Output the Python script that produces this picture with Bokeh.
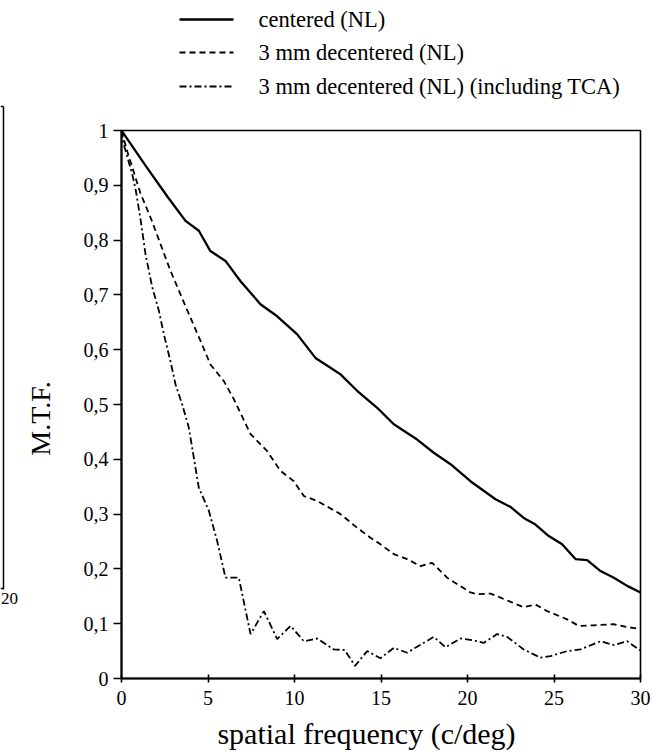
import math
from bokeh.plotting import figure
from bokeh.models import Range1d, FixedTicker
from bokeh.layouts import row, column
from bokeh.core.properties import value
from bokeh.embed import file_html
from bokeh.resources import INLINE

# ---------------- data ----------------
freq_centered = [0, 1.39, 2.64, 3.70, 4.47, 5.14, 6.01, 6.88, 8.03, 9.0, 10.16, 11.21,
                 12.08, 12.66, 13.62, 14.78, 15.74, 17.09, 18.05, 19.02, 20.17, 21.62,
                 22.49, 23.25, 23.93, 24.7, 25.47, 26.24, 26.92, 27.69, 28.46, 29.23, 30.0]
mtf_centered = [1.0, 0.936, 0.88, 0.835, 0.817, 0.78, 0.762, 0.725, 0.683, 0.661, 0.628, 0.585,
                0.567, 0.555, 0.525, 0.494, 0.464, 0.436, 0.412, 0.391, 0.36, 0.327,
                0.313, 0.293, 0.281, 0.26, 0.245, 0.218, 0.216, 0.196, 0.184, 0.169, 0.157]

freq_decentered = [0, 0.33, 1.1, 1.72, 2.3, 2.83, 3.41, 3.99, 4.57, 5.14, 5.91, 6.49, 7.46,
                   8.42, 9.19, 9.96, 10.54, 11.31, 12.66, 13.62, 14.39, 14.97, 15.74, 16.51,
                   17.28, 17.96, 18.82, 20.17, 20.56, 21.33, 22.1, 23.25, 23.93, 24.6, 25.76,
                   26.43, 27.3, 28.46, 29.23, 30.0]
mtf_decentered = [1.0, 0.962, 0.885, 0.838, 0.789, 0.744, 0.701, 0.658, 0.616, 0.573, 0.543,
                  0.51, 0.446, 0.415, 0.379, 0.36, 0.333, 0.324, 0.3, 0.275, 0.257, 0.245,
                  0.227, 0.218, 0.205, 0.211, 0.184, 0.157, 0.154, 0.155, 0.145, 0.13, 0.135,
                  0.123, 0.108, 0.096, 0.097, 0.099, 0.094, 0.09]

freq_tca = [0, 0.13, 0.62, 0.81, 1.10, 1.39, 1.77, 2.16, 2.45, 2.83, 3.12, 3.51, 3.89, 4.18,
            4.47, 5.05, 5.53, 6.01, 6.78, 7.46, 8.23, 9.0, 9.77, 10.54, 11.31, 12.27, 12.9,
            13.5, 14.2, 14.97, 15.74, 16.51, 18.05, 18.73, 19.6, 20.27, 20.94, 21.71, 22.29,
            23.25, 24.22, 24.8, 25.76, 26.53, 27.69, 28.46, 29.23, 30.0]
mtf_tca = [1.0, 0.975, 0.92, 0.894, 0.838, 0.774, 0.715, 0.671, 0.628, 0.579, 0.537, 0.5,
           0.458, 0.403, 0.348, 0.306, 0.251, 0.184, 0.184, 0.081, 0.123, 0.072, 0.096, 0.068,
           0.073, 0.053, 0.052, 0.023, 0.05, 0.037, 0.056, 0.047, 0.076, 0.057, 0.073, 0.07,
           0.065, 0.081, 0.076, 0.053, 0.038, 0.041, 0.05, 0.053, 0.068, 0.061, 0.068, 0.051]

series_labels = ["centered (NL)", "3 mm decentered (NL)",
                 "3 mm decentered (NL) (including TCA)"]

x_ticks = [0, 5, 10, 15, 20, 25, 30]
x_tick_labels = ["0", "5", "10", "15", "20", "25", "30"]
y_ticks = [0, 0.1, 0.2, 0.3, 0.4, 0.5, 0.6, 0.7, 0.8, 0.9, 1]
y_tick_labels = ["0", "0,1", "0,2", "0,3", "0,4", "0,5", "0,6", "0,7", "0,8", "0,9", "1"]

x_title = "spatial frequency (c/deg)"
y_title = "M.T.F."
frag_tick_label = "20"

SERIF = "Liberation Serif"
STYLES = [dict(line_color="black", line_width=2.3),
          dict(line_color="black", line_width=1.8, line_dash="6 4"),
          dict(line_color="black", line_width=1.8, line_dash="7 3 2 3")]

# ---------------- page layout (pixels) ----------------
TOTAL_W, TOTAL_H = 663, 752
SIDE_W = 60
FRAME_L, FRAME_R, FRAME_T, FRAME_B = 121, 640, 130, 678
LEG_H = 110
MAIN_TOP = FRAME_T - LEG_H
MAIN_BOT = 35
MAIN_H = MAIN_TOP + (FRAME_B - FRAME_T) + MAIN_BOT
BOT_H = TOTAL_H - LEG_H - MAIN_H
COL_W = TOTAL_W - SIDE_W
BORDER_L = FRAME_L - SIDE_W
BORDER_R = TOTAL_W - FRAME_R

LEG_ROWS_Y = [19, 52, 86]
LEG_X0, LEG_X1, LEG_TEXT_X = 179, 233, 258
XTITLE_X, XTITLE_Y = 366, 733
YTITLE_X, YTITLE_Y = 40, 418


def bare(fig):
    fig.axis.visible = False
    fig.xgrid.visible = False
    fig.ygrid.visible = False
    fig.outline_line_color = None
    fig.background_fill_color = "white"
    fig.border_fill_color = "white"


# ---------------- main chart ----------------
p = figure(width=COL_W, height=MAIN_H, x_range=Range1d(0, 30), y_range=Range1d(0, 1),
           output_backend="svg", toolbar_location=None,
           min_border_left=BORDER_L, min_border_right=BORDER_R,
           min_border_top=MAIN_TOP, min_border_bottom=MAIN_BOT)
p.background_fill_color = "white"
p.border_fill_color = "white"
p.xgrid.visible = False
p.ygrid.visible = False
p.outline_line_color = "black"
p.outline_line_width = 1.6

p.line(freq_centered, mtf_centered, **STYLES[0])
p.line(freq_decentered, mtf_decentered, **STYLES[1])
p.line(freq_tca, mtf_tca, **STYLES[2])

xa = p.xaxis[0]
xa.ticker = FixedTicker(ticks=x_ticks)
xa.major_label_overrides = dict(zip(x_ticks, x_tick_labels))
xa.minor_tick_line_color = None
xa.major_tick_in = 4
xa.major_tick_out = 4
xa.major_tick_line_width = 1.6
xa.axis_line_width = 2
xa.major_label_standoff = 8
xa.major_label_text_font = SERIF
xa.major_label_text_font_size = "20px"
xa.major_label_text_color = "black"

ya = p.yaxis[0]
ya.ticker = FixedTicker(ticks=y_ticks)
ya.major_label_overrides = dict(zip(y_ticks, y_tick_labels))
ya.minor_tick_line_color = None
ya.major_tick_in = 0
ya.major_tick_out = 8
ya.major_tick_line_width = 1.6
ya.axis_line_width = 2
ya.major_label_standoff = 5
ya.major_label_text_font = SERIF
ya.major_label_text_font_size = "20px"
ya.major_label_text_color = "black"

# ---------------- legend strip above the chart (page-pixel coordinates) ----------------
lg = figure(width=COL_W, height=LEG_H, x_range=Range1d(FRAME_L, FRAME_R),
            y_range=Range1d(LEG_H, 0), output_backend="svg", toolbar_location=None,
            min_border_left=BORDER_L, min_border_right=BORDER_R,
            min_border_top=0, min_border_bottom=0)
bare(lg)
for lab, st, yc in zip(series_labels, STYLES, LEG_ROWS_Y):
    lg.segment(x0=[LEG_X0], y0=[yc], x1=[LEG_X1], y1=[yc], **st)
    lg.text(x=[LEG_TEXT_X], y=[yc], text=[lab], text_font=value(SERIF),
            text_font_size="22.5px", text_align="left", text_baseline="middle",
            text_color="black")

# ---------------- strip below the chart: x title ----------------
bt = figure(width=COL_W, height=BOT_H, x_range=Range1d(FRAME_L, FRAME_R),
            y_range=Range1d(TOTAL_H, TOTAL_H - BOT_H), output_backend="svg",
            toolbar_location=None, min_border_left=BORDER_L, min_border_right=BORDER_R,
            min_border_top=0, min_border_bottom=0)
bare(bt)
bt.text(x=[XTITLE_X], y=[XTITLE_Y], text=[x_title], text_font=value(SERIF),
        text_font_size="30px", text_align="center", text_baseline="middle",
        text_color="black")

# ---------------- left strip: y title and fragment of the neighbouring panel ----------------
side = figure(width=SIDE_W, height=TOTAL_H, x_range=Range1d(0, SIDE_W),
              y_range=Range1d(TOTAL_H, 0), output_backend="svg", toolbar_location=None,
              min_border=0)
bare(side)
side.segment(x0=[3, 0, 0], y0=[106, 106, 588], x1=[3, 3, 3], y1=[589, 106, 588],
             line_color="black", line_width=1.5)
side.text(x=[9], y=[598], text=[frag_tick_label], text_font=value(SERIF),
          text_font_size="17px", text_align="center", text_baseline="middle",
          text_color="black")
side.text(x=[YTITLE_X], y=[YTITLE_Y], text=[y_title], angle=math.pi / 2,
          text_font=value(SERIF), text_font_size="28px", text_align="center",
          text_baseline="middle", text_color="black")

layout = row(side, column(lg, p, bt))

open("out.html", "w").write(file_html(layout, INLINE))
